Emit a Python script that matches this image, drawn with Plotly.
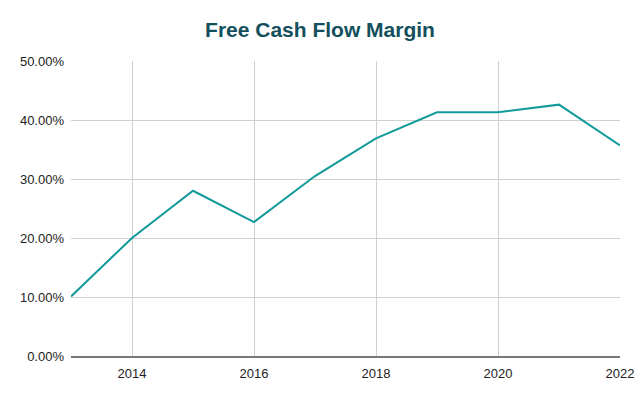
import plotly.graph_objects as go

years = [2013, 2014, 2015, 2016, 2017, 2018, 2019, 2020, 2021, 2022]
fcf_margin = [0.101, 0.200, 0.280, 0.227, 0.305, 0.369, 0.413, 0.413, 0.426, 0.357]
y_ticks = [0, 0.1, 0.2, 0.3, 0.4, 0.5]
x_ticks = [2014, 2016, 2018, 2020, 2022]

fig = go.Figure()
fig.add_trace(go.Scatter(x=years, y=fcf_margin, mode="lines",
                         line=dict(color="#12999a", width=2), hoverinfo="x+y"))

fig.update_layout(
    width=640, height=396,
    margin=dict(l=71, r=20, t=61, b=40, autoexpand=False),
    paper_bgcolor="white", plot_bgcolor="white",
    showlegend=False,
    font=dict(family="Liberation Sans, Arial, sans-serif", size=13, color="#222222"),
    title=dict(text="<b>Free Cash Flow Margin</b>", x=0.5, xanchor="center",
               y=1 - 30 / 396, yanchor="middle",
               font=dict(family="Liberation Sans, Arial, sans-serif", size=21, color="#134f5c")),
    xaxis=dict(range=[2013, 2022], tickvals=x_ticks, ticktext=[str(v) for v in x_ticks],
               showgrid=True, gridcolor="#d0d0d0", gridwidth=1,
               showline=True, linecolor="#777777", linewidth=2,
               zeroline=False, ticks="", ticklabelstandoff=4, automargin=False),
    yaxis=dict(range=[0, 0.5], tickvals=y_ticks, tickformat=".2%",
               showgrid=True, gridcolor="#d0d0d0", gridwidth=1,
               zeroline=False, showline=False, ticks="", ticklabelstandoff=6, automargin=False),
)

fig.write_html("out.html")
